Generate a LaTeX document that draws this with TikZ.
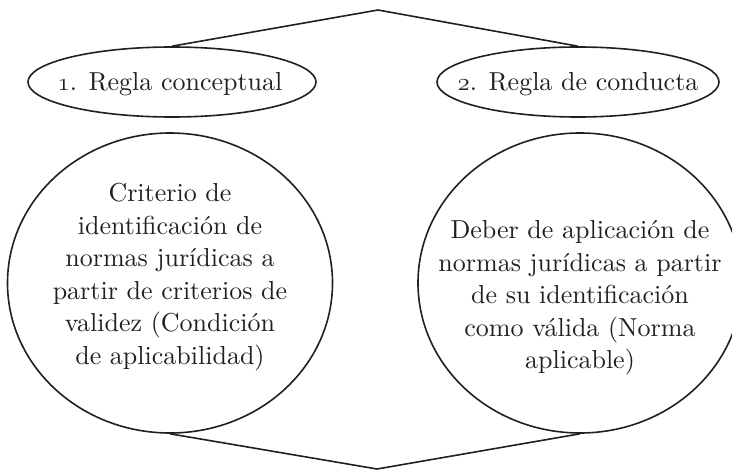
\documentclass[tikz,border=0pt]{standalone}
\usepackage{fontspec}
\usepackage{tikz}
\usetikzlibrary{shapes.geometric}
\newfontfamily\diagfont{lmroman10-regular.otf}
\definecolor{ink}{RGB}{35,31,32}
\newcommand{\osnum}[1]{{\usefont{OML}{cmm}{m}{it}#1}}

\begin{document}
\begin{tikzpicture}[x=1pt,y=-1pt,
    oval/.style={ellipse,draw=ink,line width=1.6pt,inner sep=0pt},
    words/.style={align=center,text=ink,inner sep=0pt,
                  font=\diagfont\fontsize{26}{32.5}\selectfont},
    link/.style={draw=ink,line width=1.6pt}]
  \useasboundingbox (0,0) rectangle (732,471);

  % the two rules
  \node[oval,minimum width=288pt,minimum height=70pt] (conc) at (172,82) {};
  \node[oval,minimum width=282pt,minimum height=70pt] (cond) at (578,82) {};
  \node[words] (concT) at (170,84) {\osnum{1}. Regla conceptual};
  \node[words] (condT) at (578,84) {\osnum{2}. Regla de conducta};

  % what each rule says
  \node[oval,minimum width=325pt,minimum height=300pt] (crit) at (170,283) {};
  \node[oval,minimum width=324pt,minimum height=300pt] (deber) at (580,283) {};
  \node[words] (critT) at (170,277)
    {Criterio de\\identificación de\\normas jurídicas a\\partir de criterios de\\validez (Condición\\de aplicabilidad)};
  \node[words] (deberT) at (580,298)
    {Deber de aplicación de\\normas jurídicas a partir\\de su identificación\\como válida (Norma\\aplicable)};

  \coordinate (top) at (378,10);
  \coordinate (bot) at (377,469);
  \draw[link] (conc.north) -- (top) -- (cond.north);
  \draw[link] (crit.south) -- (bot) -- (deber.south);
\end{tikzpicture}
\end{document}
